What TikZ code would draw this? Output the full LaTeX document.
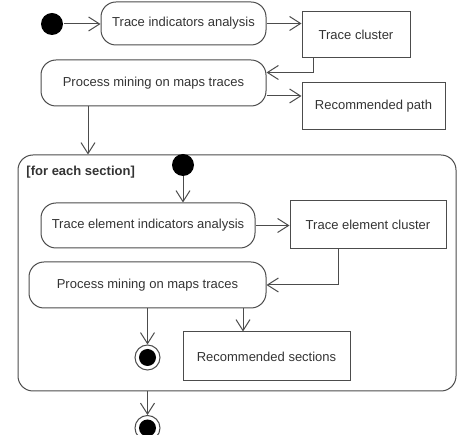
\documentclass[tikz,border=0pt]{standalone}
\usepackage{fontspec}
\setmainfont{Liberation Sans}
\usetikzlibrary{arrows.meta}

\begin{document}
\begin{tikzpicture}[x=1pt,y=-1pt,line width=1pt,
	every node/.style={font=\fontsize{13}{15}\selectfont,text=black!80},
	act/.style={draw=black!70,rounded corners=15pt,inner sep=0pt},
	obj/.style={draw=black!70,inner sep=0pt},
	start/.style={circle,fill=black,inner sep=0pt,minimum size=22pt},
	final/.style={circle,draw=black!70,inner sep=0pt,minimum size=25pt,path picture={\fill[black] (path picture bounding box.center) circle (8.5pt);}},
	flow/.style={draw=black!70,-{Straight Barb[length=11pt,width=14pt]}}]
			\useasboundingbox (0,0) rectangle (461,435);
			
			\node(init) at (52,24)[start]{};
			\node(tia) at (183.5,23.5)[act,minimum width=165pt,minimum height=43pt]{Trace indicators analysis};
			\node(tc) at (356,35)[obj,minimum width=108pt,minimum height=46pt]{Trace cluster};
			\node(pm) at (153.5,83)[act,minimum width=225pt,minimum height=46pt]{Process mining on maps traces};
			\node(rp) at (373.5,106.5)[obj,minimum width=143pt,minimum height=47pt]{Recommended path};
			
			\node(sec) at (237,273)[draw=black!70,rounded corners=15pt,minimum width=438pt,minimum height=236pt]{};
			\node(seclabel) at (26,172)[anchor=west,inner sep=0pt,font=\fontsize{13}{15}\selectfont\bfseries]{[for each section]};
			\node(init2) at (183,165)[start]{};
			\node(teia) at (148,225.5)[act,minimum width=214pt,minimum height=45pt]{Trace element indicators analysis};
			\node(tec) at (368,225)[obj,minimum width=156pt,minimum height=48pt]{Trace element cluster};
			\node(pm2) at (147.5,285)[act,minimum width=237pt,minimum height=46pt]{Process mining on maps traces};
			\node(end1) at (147.5,357.5)[final]{};
			\node(rs) at (266.5,356.5)[obj,minimum width=167pt,minimum height=49pt]{Recommended sections};
			\node(end2) at (147.5,428)[final]{};
			
			\draw[flow] (init) -- (init -| tia.west);
			\draw[flow] (tia.east) -- (tia.east -| tc.west);
			\draw[flow] ([xshift=-43pt]tc.south) |- ([yshift=-13pt]pm.north east);
			\draw[flow] ([yshift=-13pt]pm.east) -- ([yshift=-13pt]pm.east -| rp.west);
			\draw[flow] ([xshift=-65.5pt]pm.south) -- ([xshift=-65.5pt]pm.south |- sec.north);
			\draw[flow] (init2) -- (init2 |- teia.north);
			\draw[flow] (teia.east) -- (teia.east -| tec.west);
			\draw[flow] ([xshift=-30pt]tec.south) |- (pm2.east);
			\draw[flow] (pm2.south) -- (end1);
			\draw[flow] ([xshift=-23.5pt]rs.north |- pm2.south) -- ([xshift=-23.5pt]rs.north);
			\draw[flow] (end2 |- sec.south) -- (end2);
		\end{tikzpicture}
\end{document}
